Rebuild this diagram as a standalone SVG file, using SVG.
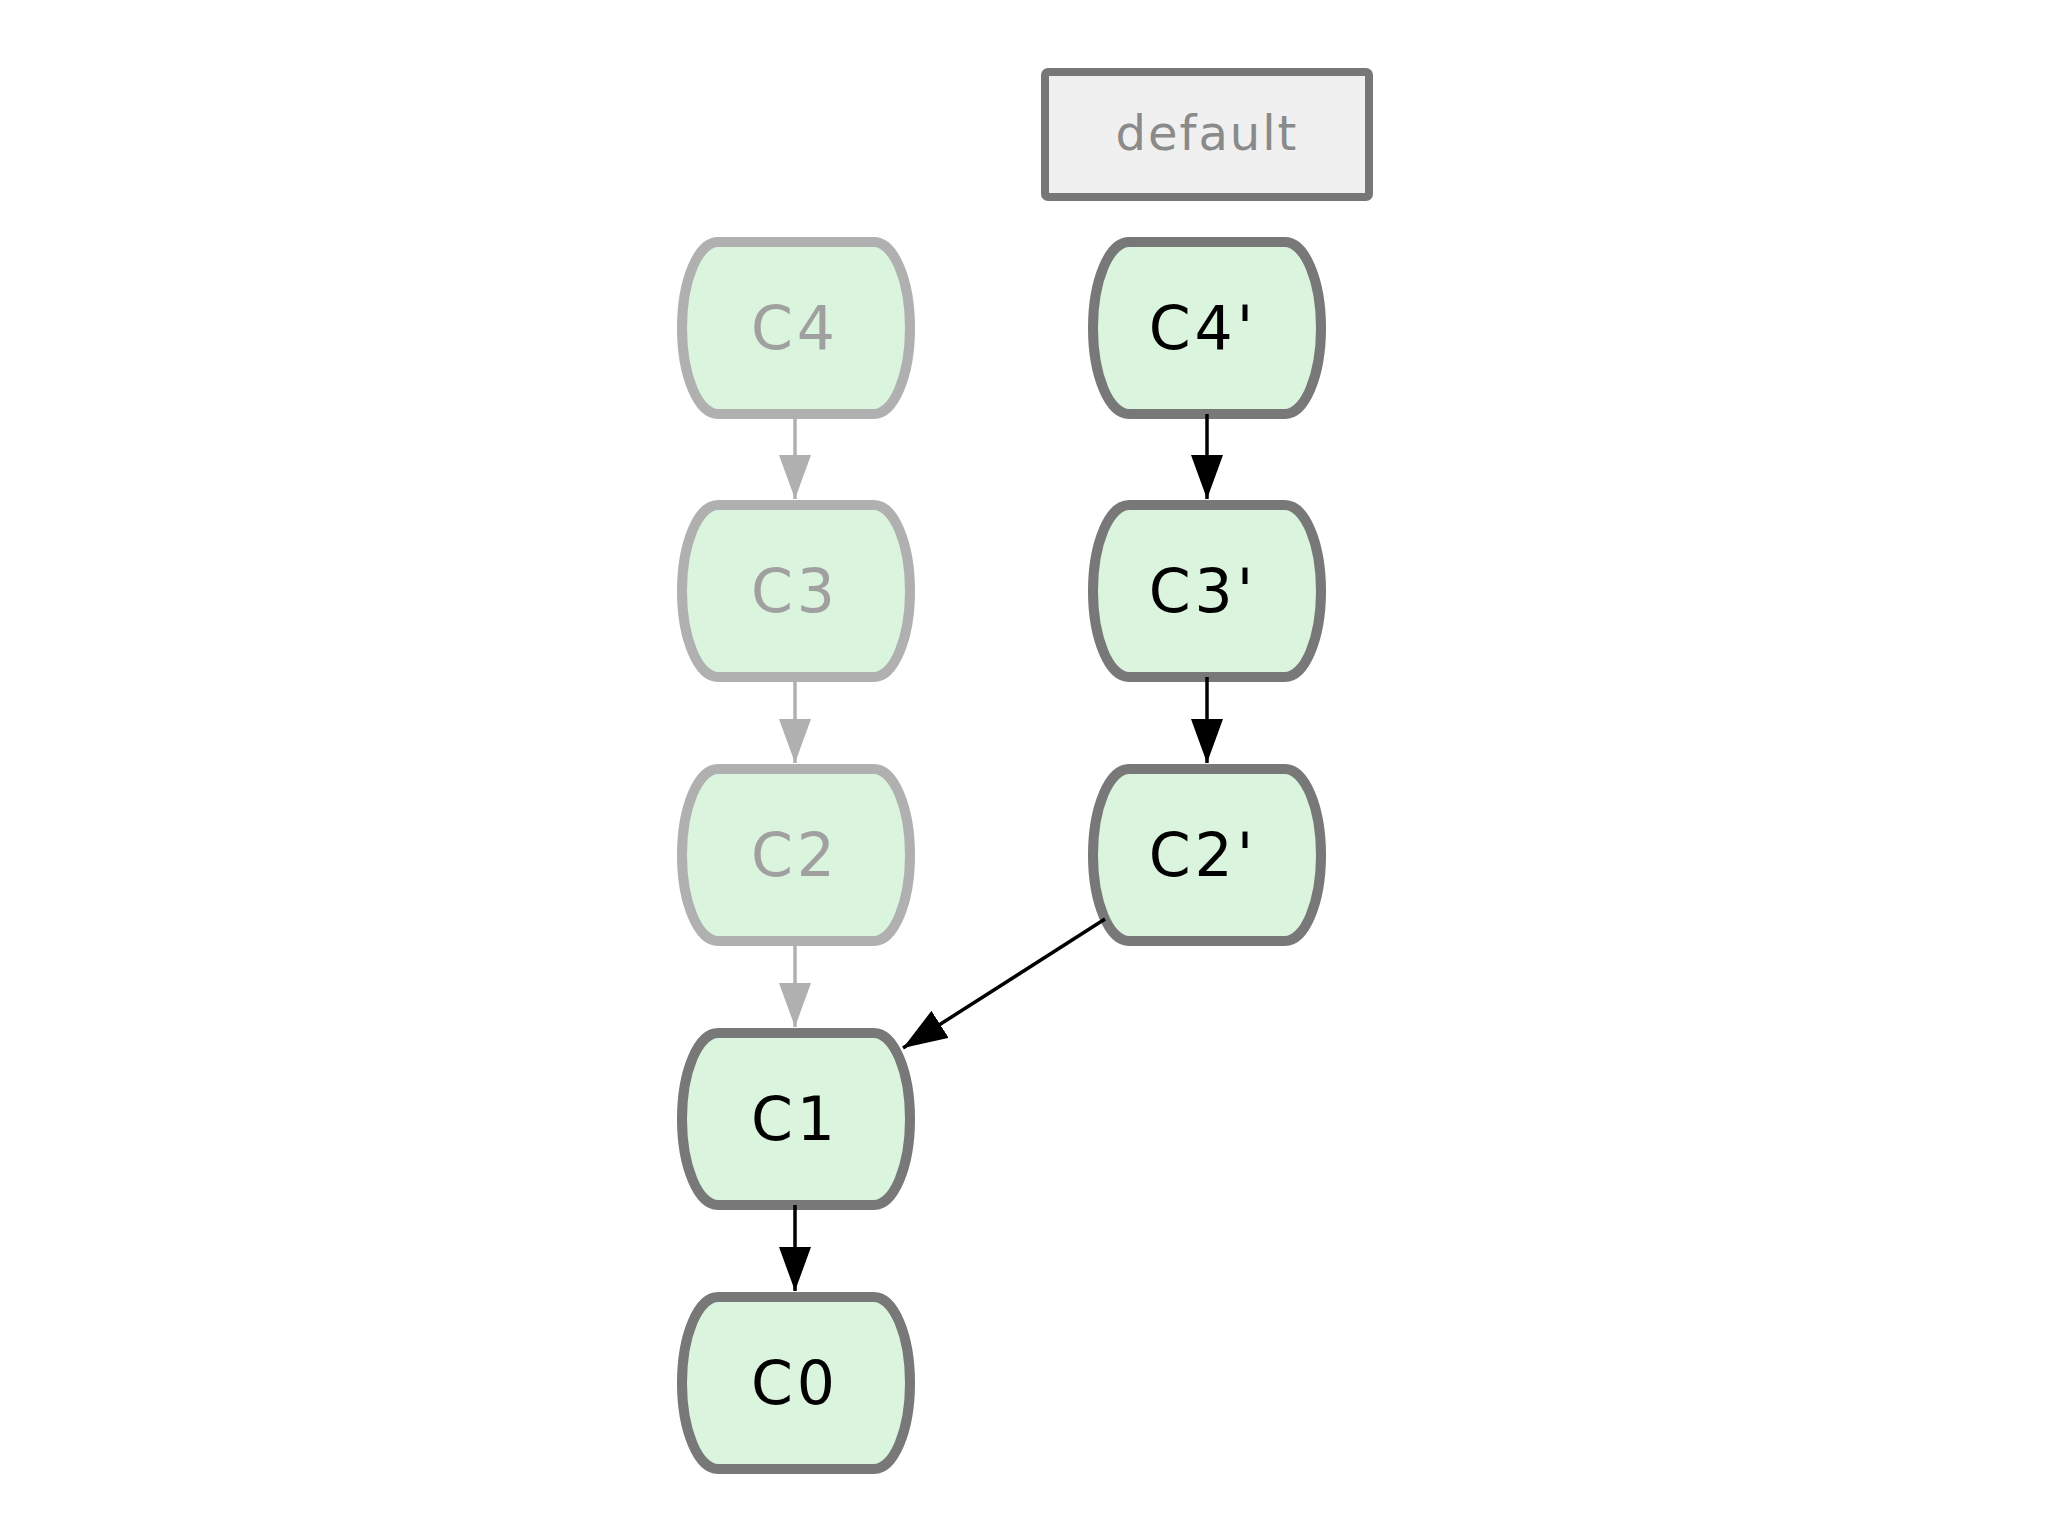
<svg xmlns="http://www.w3.org/2000/svg" width="2048" height="1536" viewBox="0 0 2048 1536">
<style>
.n{fill:#daf4de;stroke-width:10}
.d{stroke:#787878}
.f{stroke:#b0b0b0}
.t{font-family:"DejaVu Sans",sans-serif;font-size:60px;text-anchor:middle;letter-spacing:4px}
.e{stroke-width:3.5;fill:none}
</style>
<defs>
<marker id="ab" markerWidth="44" markerHeight="32" refX="44" refY="16" orient="auto" markerUnits="userSpaceOnUse"><path d="M0,0 L44,16 L0,32 Z" fill="#000"/></marker>
<marker id="ag" markerWidth="44" markerHeight="32" refX="44" refY="16" orient="auto" markerUnits="userSpaceOnUse"><path d="M0,0 L44,16 L0,32 Z" fill="#b0b0b0"/></marker>
</defs>
<rect width="2048" height="1536" fill="#fff"/>
<g id="default"><rect x="1045" y="72" width="324" height="125" rx="3" fill="#f0f0f0" stroke="#777" stroke-width="8"/><text x="1207" y="150" font-family="DejaVu Sans,sans-serif" font-size="48" fill="#8a8a8a" text-anchor="middle" letter-spacing="2">default</text></g>
<g id="C4"><path class="n f" d="M718,242 H874 A36,86 0 0 1 874,414 H718 A36,86 0 0 1 718,242 Z"/><text class="t" x="795" y="349" fill="#a0a0a0">C4</text></g>
<g id="C3"><path class="n f" d="M718,505 H874 A36,86 0 0 1 874,677 H718 A36,86 0 0 1 718,505 Z"/><text class="t" x="795" y="612" fill="#a0a0a0">C3</text></g>
<g id="C2"><path class="n f" d="M718,769 H874 A36,86 0 0 1 874,941 H718 A36,86 0 0 1 718,769 Z"/><text class="t" x="795" y="876" fill="#a0a0a0">C2</text></g>
<g id="C1"><path class="n d" d="M718,1033 H874 A36,86 0 0 1 874,1205 H718 A36,86 0 0 1 718,1033 Z"/><text class="t" x="795" y="1140" fill="#000">C1</text></g>
<g id="C0"><path class="n d" d="M718,1297 H874 A36,86 0 0 1 874,1469 H718 A36,86 0 0 1 718,1297 Z"/><text class="t" x="795" y="1404" fill="#000">C0</text></g>
<g id="C4p"><path class="n d" d="M1129,242 H1285 A36,86 0 0 1 1285,414 H1129 A36,86 0 0 1 1129,242 Z"/><text class="t" x="1203" y="349" fill="#000">C4'</text></g>
<g id="C3p"><path class="n d" d="M1129,505 H1285 A36,86 0 0 1 1285,677 H1129 A36,86 0 0 1 1129,505 Z"/><text class="t" x="1203" y="612" fill="#000">C3'</text></g>
<g id="C2p"><path class="n d" d="M1129,769 H1285 A36,86 0 0 1 1285,941 H1129 A36,86 0 0 1 1129,769 Z"/><text class="t" x="1203" y="876" fill="#000">C2'</text></g>
<g id="edges">
<line class="e" x1="795" y1="414" x2="795" y2="499" stroke="#b0b0b0" stroke-width="3" marker-end="url(#ag)"/>
<line class="e" x1="795" y1="677" x2="795" y2="763" stroke="#b0b0b0" stroke-width="3" marker-end="url(#ag)"/>
<line class="e" x1="795" y1="941" x2="795" y2="1027" stroke="#b0b0b0" stroke-width="3" marker-end="url(#ag)"/>
<line class="e" x1="795" y1="1205" x2="795" y2="1291" stroke="#000" marker-end="url(#ab)"/>
<line class="e" x1="1207" y1="414" x2="1207" y2="499" stroke="#000" marker-end="url(#ab)"/>
<line class="e" x1="1207" y1="677" x2="1207" y2="763" stroke="#000" marker-end="url(#ab)"/>
<line class="e" x1="1105" y1="919" x2="903" y2="1048" stroke="#000" marker-end="url(#ab)"/>
</g>
</svg>
